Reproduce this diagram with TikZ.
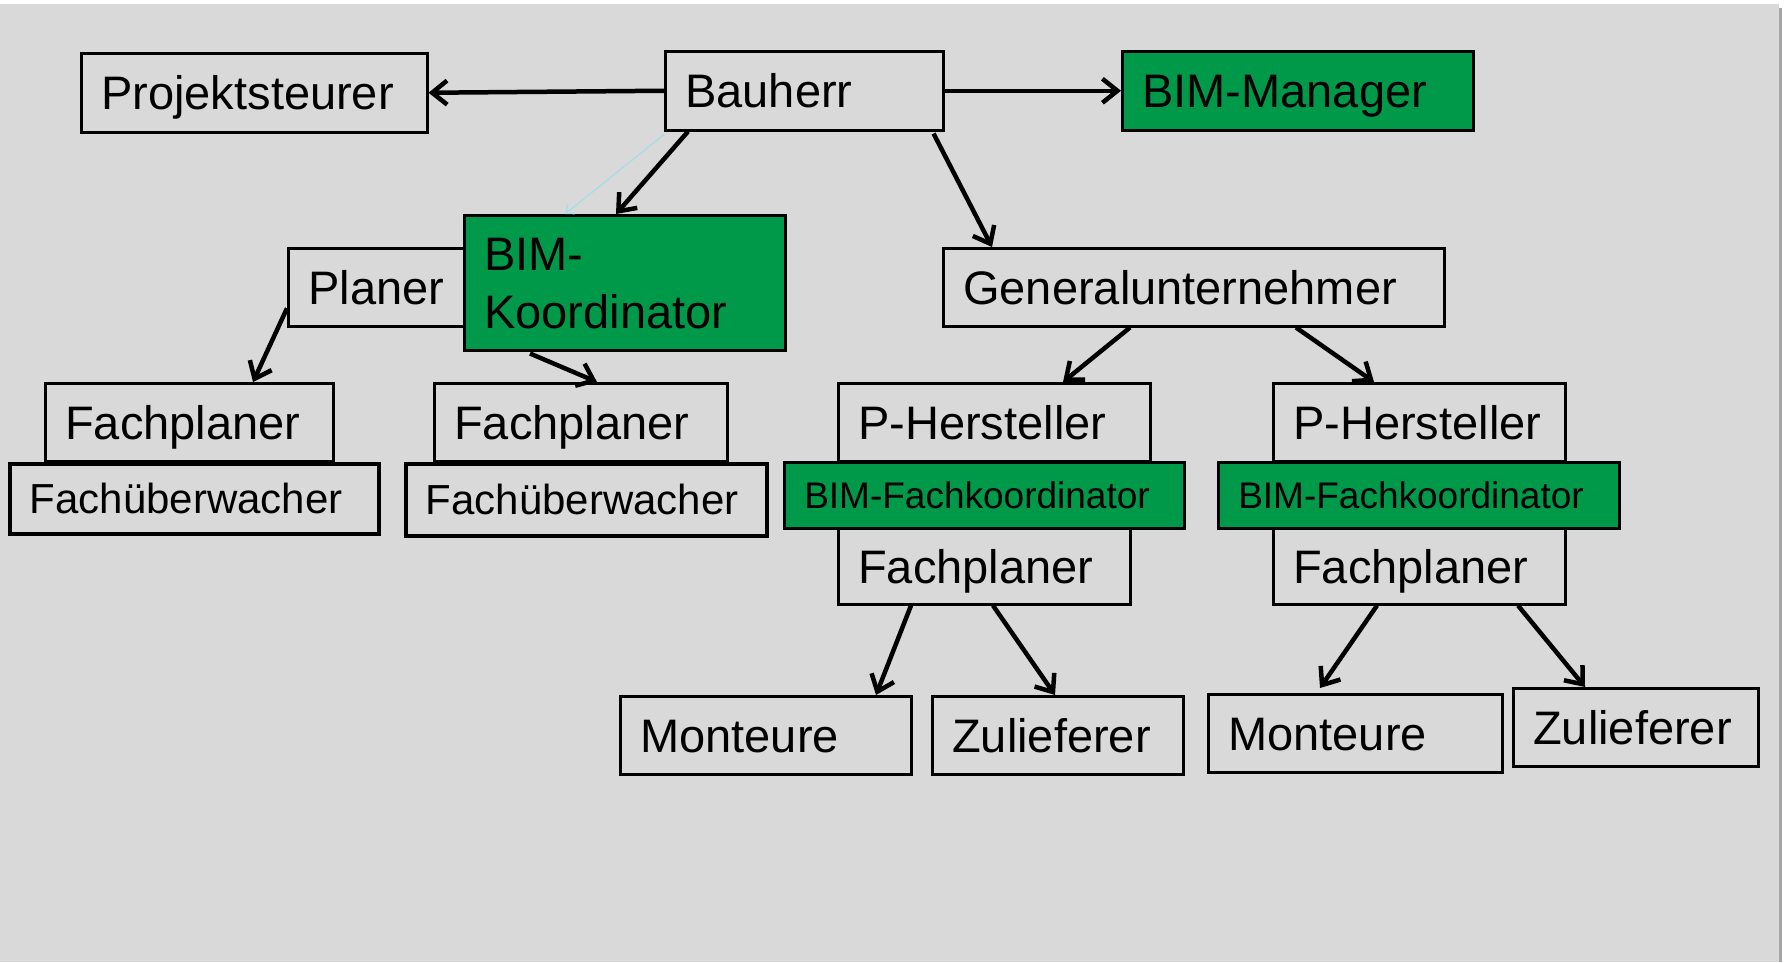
\documentclass[tikz,border=0pt]{standalone}
\usepackage{fontspec}
\setmainfont{Liberation Sans}
\usetikzlibrary{arrows.meta}
\definecolor{bg}{HTML}{D9D9D9}
\definecolor{bimgreen}{HTML}{00994A}
\definecolor{faintblue}{HTML}{ADDCE6}
\begin{document}
\begin{tikzpicture}[x=1pt,y=-1pt,
  box/.style={draw=black, line width=2.5pt, anchor=north west, inner xsep=20pt, inner ysep=0pt,
    align=left, font=\fontsize{47}{58}\selectfont, text height=33.6pt, text depth=0pt},
  thick box/.style={box, line width=3.5pt, font=\fontsize{42}{50}\selectfont, text height=30pt},
  small box/.style={box, font=\fontsize{37}{44}\selectfont, text height=26.5pt},
  green box/.style={fill=bimgreen},
  conn/.style={draw=black, line width=4.5pt, -{Straight Barb[length=15pt,width=24pt,line width=4.5pt]}},
  faint/.style={draw=faintblue, line width=1.5pt, -{Straight Barb[length=7pt,width=12pt]}}
]
\useasboundingbox (0,0) rectangle (1784,962);
\fill[white] (0,0) rectangle (1784,962);
\fill[bg] (0,4) rectangle (1779,962);
\fill[black!35] (1779,8) rectangle (1782,962);

% top row
\node[box, minimum width=346pt, minimum height=79pt, text width=306pt] (proj) at (80,52) {Projektsteurer};
\node[box, minimum width=278pt, minimum height=79pt, text width=238pt] (bau) at (664,50) {Bauherr};
\node[box, green box, minimum width=351pt, minimum height=79pt, text width=311pt] (mgr) at (1121,50) {BIM-Manager};

% second row
\node[box, minimum width=177pt, minimum height=78pt, text width=137pt] (plan) at (287,247) {Planer};
\node[box, green box, minimum width=321pt, minimum height=135pt, text width=281pt, text depth=58pt] (koord) at (463,214) {BIM-\\Koordinator};
\node[box, minimum width=501pt, minimum height=78pt, text width=461pt] (gu) at (942,247) {Generalunternehmer};

% third row left
\node[box, minimum width=288pt, minimum height=78pt, text width=248pt] (fp1) at (44,382) {Fachplaner};
\node[thick box, minimum width=369pt, minimum height=70pt, text width=329pt] (fu1) at (8,462) {Fachüberwacher};
\node[box, minimum width=293pt, minimum height=78pt, text width=253pt] (fp2) at (433,382) {Fachplaner};
\node[thick box, minimum width=361pt, minimum height=72pt, text width=321pt] (fu2) at (404,462) {Fachüberwacher};

% third row right
\node[box, minimum width=312pt, minimum height=78pt, text width=272pt] (ph1) at (837,382) {P-Hersteller};
\node[box, minimum width=292pt, minimum height=76pt, text width=252pt] (fp3) at (837,527) {Fachplaner};
\node[small box, green box, minimum width=400pt, minimum height=66pt, text width=360pt] (bfk1) at (783,461) {BIM-Fachkoordinator};
\node[box, minimum width=292pt, minimum height=78pt, text width=252pt] (ph2) at (1272,382) {P-Hersteller};
\node[box, minimum width=292pt, minimum height=76pt, text width=252pt] (fp4) at (1272,527) {Fachplaner};
\node[small box, green box, minimum width=401pt, minimum height=66pt, text width=361pt] (bfk2) at (1217,461) {BIM-Fachkoordinator};

% bottom row
\node[box, minimum width=291pt, minimum height=78pt, text width=251pt] (mo1) at (619,695) {Monteure};
\node[box, minimum width=251pt, minimum height=78pt, text width=211pt] (zu1) at (931,695) {Zulieferer};
\node[box, minimum width=294pt, minimum height=78pt, text width=254pt] (mo2) at (1207,693) {Monteure};
\node[box, minimum width=245pt, minimum height=78pt, text width=205pt] (zu2) at (1512,687) {Zulieferer};

% connectors
\draw[conn] (bau.west) -- (proj.east);
\draw[conn] (bau.east) -- (mgr.west);
\draw[faint] ([yshift=-3pt]bau.south west) -- ([xshift=102pt]koord.north west);
\draw[conn] ([xshift=24pt]bau.south west) -- ([xshift=153pt]koord.north west);
\draw[conn] ([xshift=-11pt,yshift=-2pt]bau.south east) -- ([xshift=50pt]gu.north west);
\draw[conn] ([yshift=-21pt]plan.west) -- ([xshift=209pt]fp1.north west);
\draw[conn] ([xshift=67pt,yshift=-2pt]koord.south west) -- ([xshift=164pt]fp2.north west);
\draw[conn] ([xshift=188pt]gu.south west) -- ([xshift=226pt]ph1.north west);
\draw[conn] ([xshift=354pt]gu.south west) -- ([xshift=102pt]ph2.north west);
\draw[conn] ([xshift=74pt]fp3.south west) -- ([xshift=257pt]mo1.north west);
\draw[conn] ([xshift=156pt]fp3.south west) -- ([xshift=124pt]zu1.north west);
\draw[conn] ([xshift=105pt]fp4.south west) -- ([xshift=113pt,yshift=5pt]mo2.north west);
\draw[conn] ([xshift=246pt]fp4.south west) -- ([xshift=73pt]zu2.north west);
\end{tikzpicture}
\end{document}
